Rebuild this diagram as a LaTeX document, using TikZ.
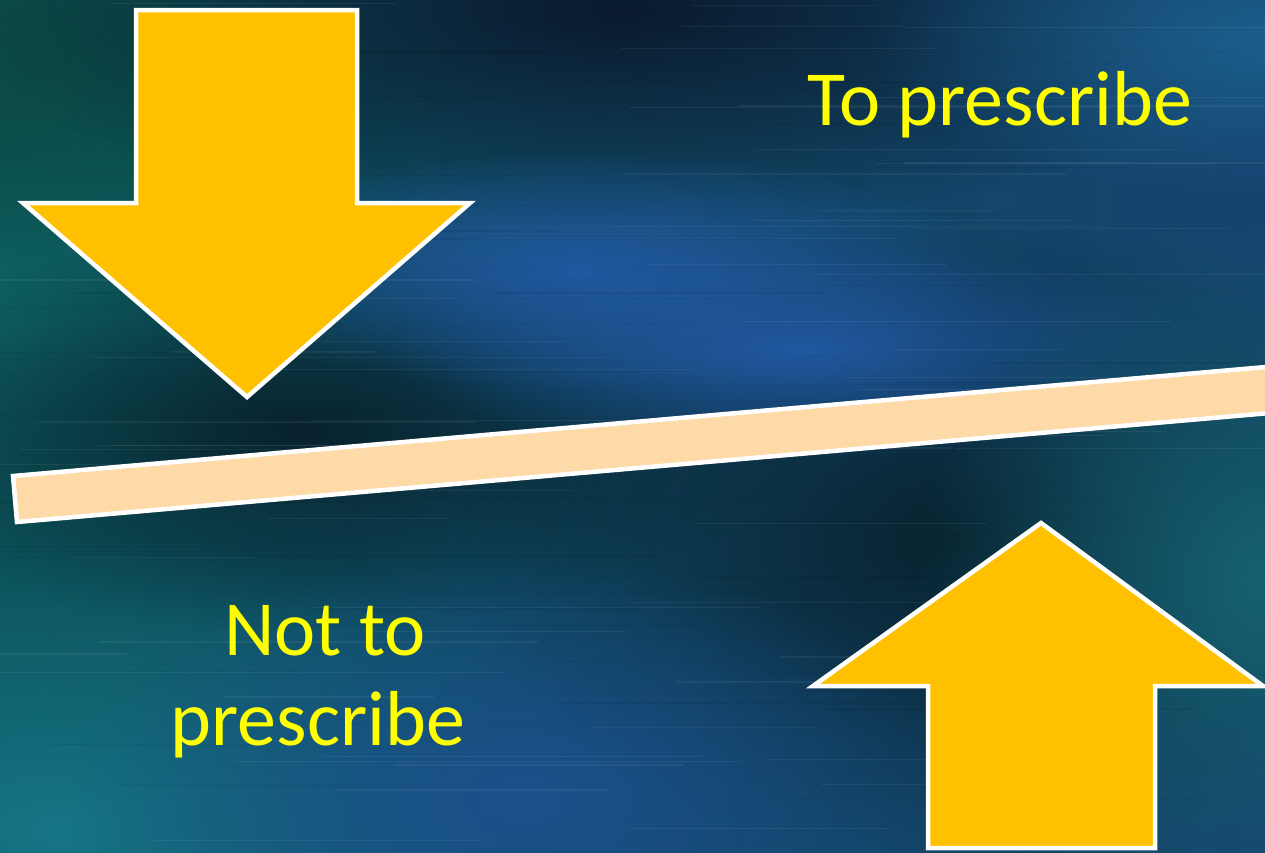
\documentclass[tikz,border=0pt]{standalone}
\usepackage{fontspec}
\setmainfont{Carlito}
\usetikzlibrary{fadings}
\definecolor{arrowfill}{HTML}{FFC000}
\definecolor{barfill}{HTML}{FDDAA8}
\definecolor{textyellow}{HTML}{FFFF00}
\definecolor{bgleft}{HTML}{0B4F57}
\definecolor{bgmid}{HTML}{14396A}
\definecolor{bgright}{HTML}{16426F}
\definecolor{c1}{HTML}{167585}
\definecolor{c2}{HTML}{0F6A6A}
\definecolor{c3}{HTML}{0B4A45}
\definecolor{c4}{HTML}{0A1A2E}
\definecolor{c5}{HTML}{2158A0}
\definecolor{c6}{HTML}{08222E}
\definecolor{c7}{HTML}{1B4F8C}
\definecolor{c8}{HTML}{15616F}
\definecolor{c9}{HTML}{1B5E8A}
\tikzfading[name=softblob, inner color=transparent!0, outer color=transparent!100]
\begin{document}
\begin{tikzpicture}[x=1pt,y=-1pt,
  arrowshape/.style={fill=arrowfill, draw=white, line width=4.5pt, line join=miter},
  barshape/.style={fill=barfill, draw=white, line width=4.5pt, line join=miter},
  lbl/.style={text=textyellow, font=\fontsize{78}{90}\selectfont, inner sep=0pt, anchor=base},
  blob/.style={fill=#1, path fading=softblob},
  streak/.style={draw=#1, line width=1.2pt, opacity=0.06}]
\useasboundingbox (0,0) rectangle (1265,852);
\clip (0,0) rectangle (1265,852);
% background
\shade[left color=bgleft, middle color=bgmid, right color=bgright] (0,0) rectangle (1265,852);
\fill[blob=c1] (60,830) ellipse (600 and 300);
\fill[blob=c2] (0,330) ellipse (450 and 300);
\fill[blob=c3] (0,60) ellipse (450 and 260);
\fill[blob=c4] (620,10) ellipse (650 and 220);
\fill[blob=c6] (300,430) ellipse (500 and 200);
\fill[blob=c6] (960,540) ellipse (500 and 320);
\fill[blob=c5] (580,270) ellipse (420 and 120);
\fill[blob=c5] (800,350) ellipse (420 and 110);
\fill[blob=c7] (520,800) ellipse (450 and 250);
\fill[blob=c8] (1265,580) ellipse (350 and 380);
\fill[blob=c9] (1265,40) ellipse (400 and 160);
% streak texture
\pgfmathsetseed{7}
\foreach \i in {1,...,140}{
  \pgfmathsetmacro{\yy}{rnd*852}
  \pgfmathsetmacro{\xa}{rnd*1100-100}
  \pgfmathsetmacro{\xl}{150+rnd*400}
  \pgfmathsetmacro{\tone}{rnd}
  \ifdim\tone pt>0.5pt
    \draw[streak=white] (\xa,\yy) -- ++(\xl,0);
  \else
    \draw[streak=black] (\xa,\yy) -- ++(\xl,0);
  \fi
}
% bar
\draw[barshape] (13,476) -- (1320,362.3) -- (1324,408.3) -- (17,522) -- cycle;
% down arrow
\draw[arrowshape] (136,10) -- (357,10) -- (357,203) -- (470,203) -- (247,397) -- (23,203) -- (136,203) -- cycle;
% up arrow
\draw[arrowshape] (1041,523) -- (1263,686) -- (1155,686) -- (1155,848) -- (928,848) -- (928,686) -- (813,686) -- cycle;
% labels
\node[lbl] (top) at (1000,125) {To prescribe};
\node[lbl] (bot1) at (325,655) {Not to};
\node[lbl] (bot2) at (318,745) {prescribe};
\end{tikzpicture}
\end{document}
